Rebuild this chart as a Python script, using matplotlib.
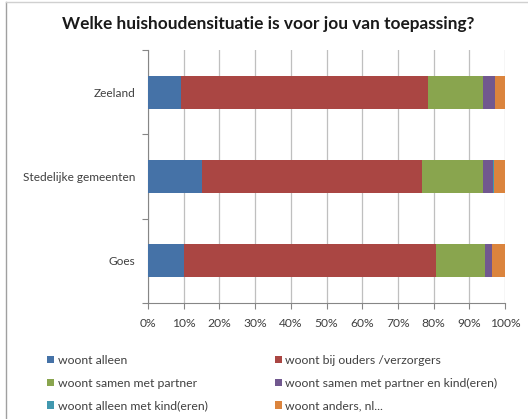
import matplotlib
matplotlib.use("Agg")
import matplotlib.pyplot as plt
from matplotlib.patches import Patch
from matplotlib.lines import Line2D
import numpy as np

categories = ["Goes", "Stedelijke gemeenten", "Zeeland"]
series_names = ["woont alleen", "woont bij ouders /verzorgers", "woont samen met partner",
                "woont samen met partner en kind(eren)", "woont alleen met kind(eren)", "woont anders, nl..."]
woont_alleen = [10.2, 15.1, 9.2]
bij_ouders = [70.6, 61.6, 69.1]
samen_partner = [13.7, 17.2, 15.6]
partner_kind = [1.8, 2.6, 3.4]
alleen_kind = [0.0, 0.3, 0.0]
anders = [3.7, 3.2, 2.7]
xticks = [0, 10, 20, 30, 40, 50, 60, 70, 80, 90, 100]
colors = ["#4572A7", "#AA4643", "#89A54E", "#71588F", "#4198AF", "#DB843D"]

series = [woont_alleen, bij_ouders, samen_partner, partner_kind, alleen_kind, anders]

plt.rcParams['font.family'] = ['Lato', 'DejaVu Sans']

fig = plt.figure(figsize=(5.28, 4.19), dpi=100)
ax = fig.add_axes([148/528, 1-303/419, (505-148)/528, (303-50)/419])

y = np.arange(len(categories))
left = np.zeros(len(categories))
for vals, col, name in zip(series, colors, series_names):
    v = np.array(vals)
    ax.barh(y, v, left=left, height=0.39, color=col, label=name, zorder=3)
    left += v

ax.set_xlim(0, 100)
ax.set_ylim(-0.5, 2.5)
ax.set_xticks(xticks)
ax.set_xticklabels([f"{t}%" for t in xticks], fontsize=8.7, color="#404040")
ax.set_yticks([-0.5, 0.5, 1.5, 2.5])
ax.set_yticklabels([])
ax.set_yticks(y, minor=True)
ax.set_yticklabels(categories, minor=True, fontsize=8.6, color="#404040")
ax.tick_params(axis='y', which='minor', length=0, pad=9.4)
ax.tick_params(axis='y', which='major', length=4, color="#868686")
ax.tick_params(axis='x', length=4, color="#868686", pad=7)
ax.xaxis.grid(True, color="#BFBFBF", linewidth=0.9, zorder=0)
ax.set_axisbelow(True)
for s in ["top", "right"]:
    ax.spines[s].set_visible(False)
for s in ["left", "bottom"]:
    ax.spines[s].set_color("#868686")

fig.text(0.508, 1-24/419, "Welke huishoudensituatie is voor jou van toepassing?",
         ha="center", va="center", fontsize=12.4, fontweight="bold", color="#1a1a1a")

handles = [Patch(facecolor=c, edgecolor='none') for c in colors]
order = [0, 2, 4, 1, 3, 5]
fig.legend([handles[i] for i in order], [series_names[i] for i in order],
           ncol=2, loc="upper left", bbox_to_anchor=(36/528, 1-344/419),
           frameon=False, fontsize=8.8, handlelength=0.57, handleheight=0.57,
           handletextpad=0.3, columnspacing=5.5, labelspacing=0.95,
           labelcolor="#404040")

# frame border lines
fig.add_artist(Line2D([6/528, 6/528], [0, 1-2/419], color="#A0A0A0", linewidth=1))
fig.add_artist(Line2D([6/528, 1], [1-2/419, 1-2/419], color="#D0D0D0", linewidth=1))

fig.savefig("out.png", dpi=100)
